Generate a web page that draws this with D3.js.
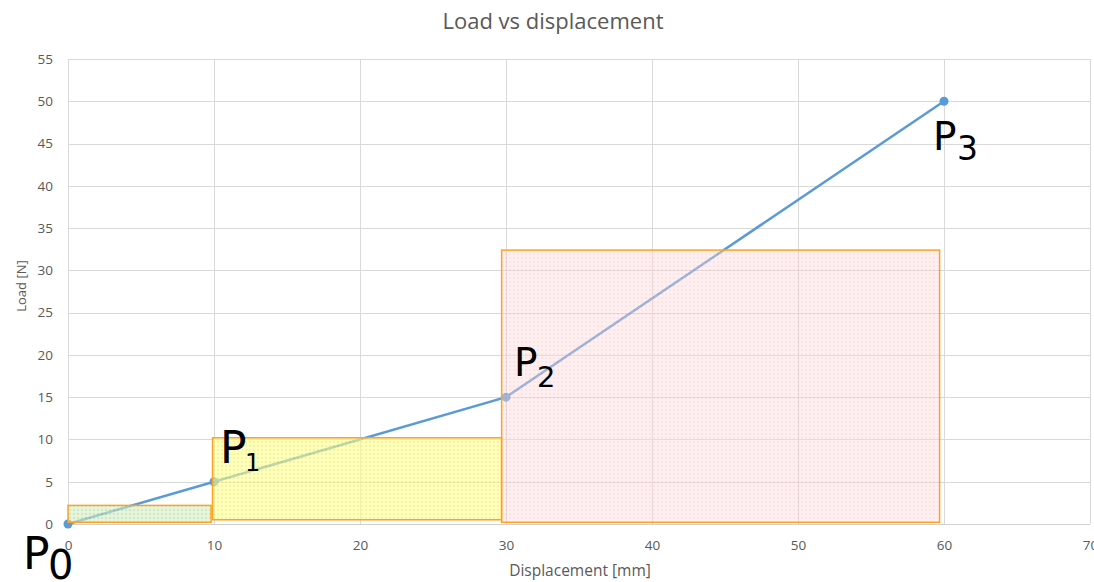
<!DOCTYPE html>
<html>
<head>
<meta charset="utf-8">
<script src="https://cdn.jsdelivr.net/npm/d3@7"></script>
<style>
  html, body { margin: 0; padding: 0; background: #fff; }
  svg { display: block; }
</style>
</head>
<body>
<svg id="chart" width="1094" height="582"></svg>
<script>
// Load–displacement curve
const displacement = [0, 10, 30, 60];
const load = [0, 5, 15, 50];
const pointNames = ["0", "1", "2", "3"];

// Shaded blocks under the curve: [x start, x end, load bottom, load top]
const blockX0 = [0, 9.9, 29.7];
const blockX1 = [9.8, 29.7, 59.7];
const blockY0 = [0.2, 0.5, 0.2];
const blockY1 = [2.2, 10.2, 32.4];

const xTicks = [0, 10, 20, 30, 40, 50, 60, 70];
const yTicks = [0, 5, 10, 15, 20, 25, 30, 35, 40, 45, 50, 55];

const svg = d3.select("#chart");
const x = d3.scaleLinear().domain([0, 70]).range([68, 1090]);
const y = d3.scaleLinear().domain([0, 55]).range([524, 59]);

const textFont = "'Open Sans', 'Noto Sans', sans-serif";
const grey = "#595959";

// dotted fills for the blocks
const fills = [
  { id: "dotGreen", base: "#d6ecc4", dot: "#9fcf84", op: 0.6 },
  { id: "dotYellow", base: "#ffff8c", dot: "#e3e35a", op: 0.6 },
  { id: "dotPink", base: "#ffd9dc", dot: "#f7b0b6", op: 0.42 }
];
const defs = svg.append("defs");
fills.forEach(f => {
  const p = defs.append("pattern")
    .attr("id", f.id).attr("patternUnits", "userSpaceOnUse")
    .attr("width", 4).attr("height", 4);
  p.append("rect").attr("width", 4).attr("height", 4).attr("fill", f.base);
  p.append("circle").attr("cx", 2).attr("cy", 2).attr("r", 0.9).attr("fill", f.dot);
});

// title
svg.append("text")
  .attr("x", 553).attr("y", 29)
  .attr("text-anchor", "middle")
  .attr("font-family", textFont).attr("font-size", 22)
  .attr("fill", grey)
  .text("Load vs displacement");

// gridlines
const grid = svg.append("g");
grid.selectAll("line.h").data(yTicks.slice(1)).join("line")
  .attr("x1", x(0)).attr("x2", x(70))
  .attr("y1", d => Math.round(y(d)) + 0.5).attr("y2", d => Math.round(y(d)) + 0.5)
  .attr("stroke", "#d9d9d9").attr("stroke-width", 1);
grid.selectAll("line.v").data(xTicks).join("line")
  .attr("x1", d => Math.round(x(d)) + 0.5).attr("x2", d => Math.round(x(d)) + 0.5)
  .attr("y1", y(55)).attr("y2", y(0))
  .attr("stroke", "#d9d9d9").attr("stroke-width", 1);
svg.append("line")
  .attr("x1", x(0)).attr("x2", x(70))
  .attr("y1", Math.round(y(0)) + 0.5).attr("y2", Math.round(y(0)) + 0.5)
  .attr("stroke", "#d0d0d0").attr("stroke-width", 1);

// axes (labels only)
const xAxis = d3.axisBottom(x).tickValues(xTicks).tickSize(0).tickPadding(16);
const gx = svg.append("g").attr("transform", `translate(0,${y(0)})`).call(xAxis);
const yAxis = d3.axisLeft(y).tickValues(yTicks).tickSize(0).tickPadding(15);
const gy = svg.append("g").attr("transform", `translate(${x(0)},0)`).call(yAxis);
[gx, gy].forEach(g => {
  g.select(".domain").remove();
  g.selectAll("text").attr("font-family", textFont).attr("font-size", 13.5).attr("fill", grey);
});

// axis titles
svg.append("text")
  .attr("x", 580).attr("y", 576)
  .attr("text-anchor", "middle")
  .attr("font-family", textFont).attr("font-size", 15.5).attr("fill", grey)
  .text("Displacement [mm]");
svg.append("text")
  .attr("transform", "translate(26,286) rotate(-90)")
  .attr("text-anchor", "middle")
  .attr("font-family", textFont).attr("font-size", 13).attr("fill", grey)
  .text("Load [N]");

// curve and markers
const pts = displacement.map((d, i) => [d, load[i]]);
svg.append("path")
  .datum(pts)
  .attr("d", d3.line().x(d => x(d[0])).y(d => y(d[1])))
  .attr("fill", "none").attr("stroke", "#5b9bd5").attr("stroke-width", 2.5);
svg.selectAll("circle.pt").data(pts).join("circle")
  .attr("cx", d => x(d[0])).attr("cy", d => y(d[1]))
  .attr("r", 4.5).attr("fill", "#5b9bd5");

// shaded blocks laid over the curve
svg.append("g").selectAll("rect").data(blockX0).join("rect")
  .attr("x", (d, i) => x(blockX0[i]))
  .attr("y", (d, i) => y(blockY1[i]))
  .attr("width", (d, i) => x(blockX1[i]) - x(blockX0[i]))
  .attr("height", (d, i) => y(blockY0[i]) - y(blockY1[i]))
  .attr("fill", (d, i) => `url(#${fills[i].id})`)
  .attr("fill-opacity", (d, i) => fills[i].op)
  .attr("stroke", "#ffa21f").attr("stroke-width", 1.5);

// point labels P0..P3 (offsets from each point, with font sizes)
const labelStyle = [
  { dx: -45, dy: 45, size: 44, sub: 40, sdx: 25, sdy: 10 },
  { dx: 6, dy: -19, size: 44, sub: 24, sdx: 25, sdy: 8 },
  { dx: 8, dy: -21, size: 39, sub: 29, sdx: 23, sdy: 11 },
  { dx: -11, dy: 49, size: 39, sub: 33, sdx: 24, sdy: 10 }
];
const labels = svg.append("g");
pts.forEach((p, i) => {
  const s = labelStyle[i];
  const bx = x(p[0]) + s.dx, by = y(p[1]) + s.dy;
  labels.append("text")
    .attr("x", bx).attr("y", by)
    .attr("font-family", "'DejaVu Sans', sans-serif").attr("font-size", s.size)
    .attr("fill", "#000").text("P");
  labels.append("text")
    .attr("x", bx + s.sdx).attr("y", by + s.sdy)
    .attr("font-family", "'DejaVu Sans', sans-serif").attr("font-size", s.sub)
    .attr("fill", "#000").text(pointNames[i]);
});
</script>
</body>
</html>
